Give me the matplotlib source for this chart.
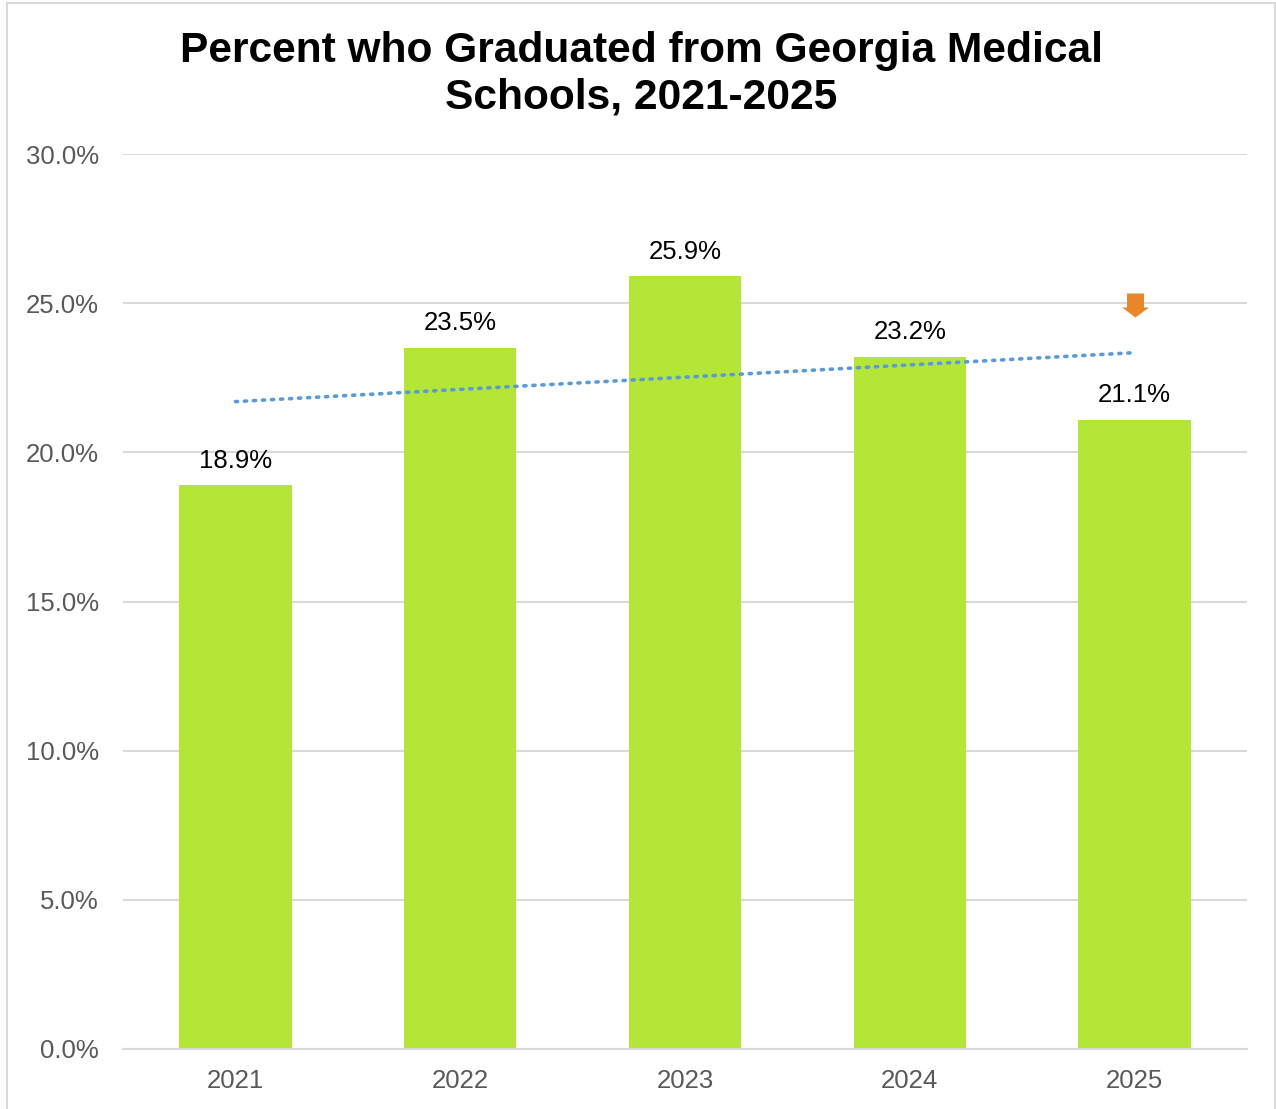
import numpy as np
import matplotlib
matplotlib.use("Agg")
import matplotlib.pyplot as plt
from matplotlib.path import Path
from matplotlib.patches import Rectangle

# data
years = ["2021", "2022", "2023", "2024", "2025"]
pct = [18.9, 23.5, 25.9, 23.2, 21.1]
y_ticks = [0, 5, 10, 15, 20, 25, 30]
flag_year = "2025"
flag_level = 24.95

plt.rcParams['font.family'] = ['Liberation Sans', 'DejaVu Sans']

W, H = 1276, 1109
fig = plt.figure(figsize=(W / 100, H / 100), dpi=100)
ax = fig.add_axes([123 / W, 1 - 1049 / H, (1247 - 123) / W, (1049 - 154) / H])

x = np.arange(len(years))
ax.bar(x, pct, width=0.5, color='#b4e637', zorder=2)

for xi, v in zip(x, pct):
    ax.annotate(f"{v:.1f}%", (xi, v), xytext=(0, 9), textcoords='offset points',
                ha='center', va='bottom', fontsize=18.5, color='black')

# linear trendline
coef = np.polyfit(x, pct, 1)
ax.plot(x, np.polyval(coef, x), linestyle=(0, (0.6, 1.9)), color='#5b9bd5',
        linewidth=2.6, dash_capstyle='round', zorder=3)

# down arrow marker (shape in pixels, centred)
arrow = Path([(-8.5, 12), (8.5, 12), (8.5, -2), (13.5, -2), (0, -12),
              (-13.5, -2), (-8.5, -2), (-8.5, 12)])
ax.plot([years.index(flag_year)], [flag_level], marker=arrow, markersize=19.4,
        color='#e8862a', markeredgewidth=0, zorder=4)

ax.set_xlim(-0.5, len(years) - 0.5)
ax.set_ylim(0, 30)
ax.set_yticks(y_ticks)
ax.set_yticklabels([f"{t:.1f}%" for t in y_ticks])
ax.set_xticks(x)
ax.set_xticklabels(years)
ax.tick_params(axis='both', length=0, labelsize=18.5, labelcolor='#595959')
ax.tick_params(axis='y', pad=17.5)
ax.tick_params(axis='x', pad=14.5)
ax.grid(axis='y', color='#d9d9d9', linewidth=1.5, zorder=0)
ax.set_axisbelow(True)
for s in ['top', 'right', 'left']:
    ax.spines[s].set_visible(False)
ax.spines['bottom'].set_color('#d9d9d9')
ax.spines['bottom'].set_linewidth(1.5)

fig.text(641 / W, 1 - 74 / H, "Percent who Graduated from Georgia Medical\nSchools, 2021-2025",
         ha='center', va='center', fontsize=30.6, fontweight='bold', linespacing=1.2)

fig.patches.append(Rectangle((7 / W, -0.05), (1275 - 7) / W, 1.05 - 3 / H,
                             transform=fig.transFigure, fill=False,
                             edgecolor='#d9d9d9', linewidth=1.5))

fig.savefig("out.png", dpi=100)
